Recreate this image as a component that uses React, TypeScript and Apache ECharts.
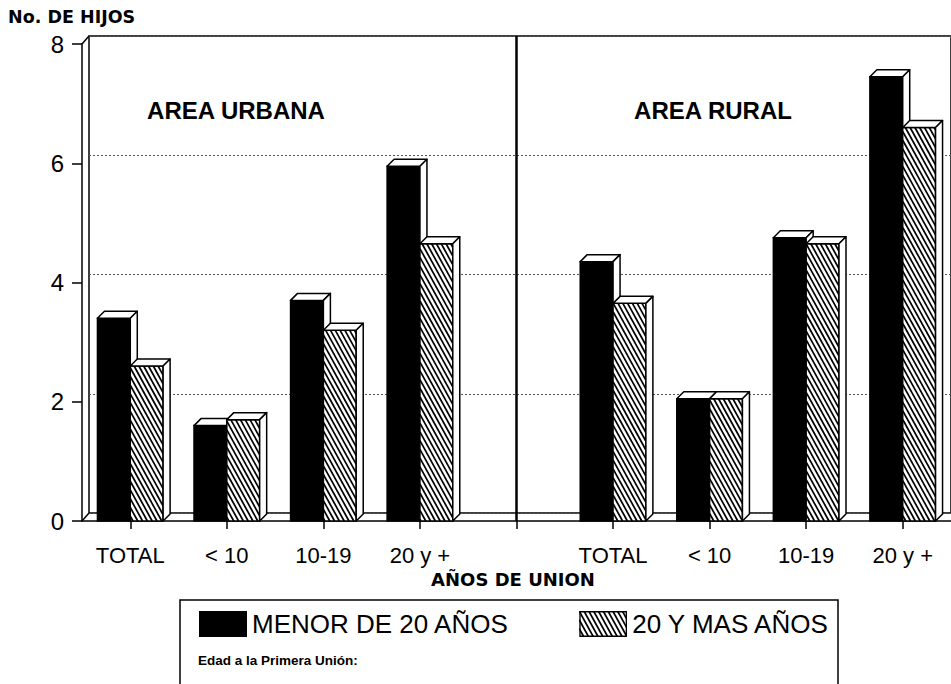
import React, { useEffect, useRef } from 'react';
import * as echarts from 'echarts';

// ---- data ----
const CATEGORIES = ['TOTAL', '< 10', '10-19', '20 y +', '', 'TOTAL', '< 10', '10-19', '20 y +'];
const URBAN_IDX = [0, 1, 2, 3];
const RURAL_IDX = [5, 6, 7, 8];
const URBAN_MENOR = [3.4, 1.6, 3.7, 5.95];
const URBAN_MAS = [2.6, 1.7, 3.2, 4.65];
const RURAL_MENOR = [4.35, 2.05, 4.75, 7.45];
const RURAL_MAS = [3.65, 2.05, 4.65, 6.6];
const SERIES_NAMES = ['MENOR DE 20 AÑOS', '20 Y MAS AÑOS'];
const Y_MIN = 0;
const Y_MAX = 8;
const Y_INTERVAL = 2;

// ---- styling constants ----
const FONT = "'Liberation Sans', Arial, Helvetica, sans-serif";
const WIDE_FONT = "'DejaVu Sans', Verdana, sans-serif";
const DX = 7;
const DY = -7;
const WX = 7;
const WY = -8;
const BAR_FRAC = 0.34;
const HATCH_P = 4.8;
const HATCH_S = 0.55;

function hatchSegments(x0: number, ya: number, x1: number, yb: number, p: number, s: number) {
  const out: number[][] = [];
  const kStart = Math.ceil((x0 - s * yb) / p);
  const kEnd = Math.floor((x1 - s * ya) / p);
  for (let k = kStart; k <= kEnd; k++) {
    const c = k * p;
    const lo = Math.max(ya, (x0 - c) / s);
    const hi = Math.min(yb, (x1 - c) / s);
    if (hi - lo > 0.3) out.push([c + s * lo, lo, c + s * hi, hi]);
  }
  return out;
}

function pairs(idx: number[], vals: number[]) {
  return idx.map((i, k) => [i, vals[k]]);
}

const menorData = [...pairs(URBAN_IDX, URBAN_MENOR), ...pairs(RURAL_IDX, RURAL_MENOR)];
const masData = [...pairs(URBAN_IDX, URBAN_MAS), ...pairs(RURAL_IDX, RURAL_MAS)];

const makeBarRender = (hatched: boolean) => (params: any, api: any) => {
  const i = api.value(0);
  const v = api.value(1);
  const b = api.coord([i, 0]);
  const t = api.coord([i, v]);
  const bw = api.size([1, 0])[0] * BAR_FRAC;
  const x0 = hatched ? b[0] : b[0] - bw;
  const x1 = x0 + bw;
  const yb = b[1];
  const yt = t[1];
  const children: any[] = [];
  children.push({
    type: 'rect',
    shape: { x: x0, y: yt, width: bw, height: yb - yt },
    style: { fill: hatched ? '#fff' : '#000', stroke: 'none' },
  });
  if (hatched) {
    hatchSegments(x0, yt, x1, yb, HATCH_P, HATCH_S).forEach((s) => {
      children.push({
        type: 'line',
        shape: { x1: s[0], y1: s[1], x2: s[2], y2: s[3] },
        style: { stroke: '#000', lineWidth: 1.7 },
      });
    });
  }
  children.push({
    type: 'rect',
    shape: { x: x0, y: yt, width: bw, height: yb - yt },
    style: { fill: 'none', stroke: '#000', lineWidth: 1.5 },
  });
  children.push({
    type: 'polygon',
    shape: { points: [[x0, yt], [x1, yt], [x1 + DX, yt + DY], [x0 + DX, yt + DY]] },
    style: { fill: '#fff', stroke: '#000', lineWidth: 1.5, lineJoin: 'round' },
  });
  children.push({
    type: 'polygon',
    shape: { points: [[x1, yt], [x1 + DX, yt + DY], [x1 + DX, yb + DY], [x1, yb]] },
    style: { fill: '#fff', stroke: '#000', lineWidth: 1.5, lineJoin: 'round' },
  });
  return { type: 'group', children };
};

const frameRender = (params: any, api: any) => {
  const band = api.size([1, 0])[0];
  const p0 = api.coord([0, Y_MIN]);
  const p8 = api.coord([0, Y_MAX]);
  const left = p0[0] - band / 2;
  const pd = api.coord([4, Y_MIN]);
  const st = { stroke: '#000', lineWidth: 1.5 };
  return {
    type: 'group',
    children: [
      { type: 'line', shape: { x1: left, y1: p0[1], x2: left + WX, y2: p0[1] + WY }, style: st },
      { type: 'line', shape: { x1: left, y1: p8[1], x2: left + WX, y2: p8[1] + WY }, style: st },
      { type: 'line', shape: { x1: pd[0], y1: p8[1] + WY, x2: pd[0], y2: p0[1] }, style: { stroke: '#000', lineWidth: 2.5 } },
    ],
  };
};

function hatchIcon() {
  const w = 48;
  const h = 26;
  const segs = hatchSegments(0, 0, w, h, HATCH_P, HATCH_S)
    .map((s) => `<line x1="${s[0].toFixed(2)}" y1="${s[1].toFixed(2)}" x2="${s[2].toFixed(2)}" y2="${s[3].toFixed(2)}" stroke="black" stroke-width="1.7"/>`)
    .join('');
  const svg = `<svg xmlns="http://www.w3.org/2000/svg" width="${w}" height="${h}" viewBox="0 0 ${w} ${h}"><rect x="0" y="0" width="${w}" height="${h}" fill="white"/>${segs}<rect x="0.75" y="0.75" width="${w - 1.5}" height="${h - 1.5}" fill="none" stroke="black" stroke-width="1.5"/></svg>`;
  return 'image://data:image/svg+xml;charset=utf-8,' + encodeURIComponent(svg);
}

export default function App() {
  const ref = useRef<HTMLDivElement>(null);
  useEffect(() => {
    if (!ref.current) return;
    const chart = echarts.init(ref.current, null, { renderer: 'svg', width: 951, height: 684 });
    const option: any = {
      animation: false,
      backgroundColor: '#fff',
      textStyle: { fontFamily: FONT },
      grid: [
        { left: 82, top: 44, width: 873, height: 477, show: false },
        { left: 82 + WX, top: 44 + WY, width: 873, height: 477, show: true, borderColor: '#000', borderWidth: 1.5, backgroundColor: 'transparent' },
      ],
      xAxis: [
        {
          type: 'category',
          gridIndex: 0,
          data: CATEGORIES,
          boundaryGap: true,
          axisLine: { show: true, lineStyle: { color: '#000', width: 1.5 } },
          axisTick: { show: true, alignWithLabel: true, interval: 0, length: 8, lineStyle: { color: '#000', width: 1.5 } },
          axisLabel: { interval: 0, color: '#000', fontSize: 22, margin: 23, fontFamily: FONT },
          splitLine: { show: false },
        },
        { type: 'category', gridIndex: 1, data: CATEGORIES, show: false },
      ],
      yAxis: [
        {
          type: 'value',
          gridIndex: 0,
          min: Y_MIN,
          max: Y_MAX,
          interval: Y_INTERVAL,
          axisLine: { show: true, lineStyle: { color: '#000', width: 1.5 } },
          axisTick: { show: true, length: 10, lineStyle: { color: '#000', width: 1.5 } },
          axisLabel: { color: '#000', fontSize: 24, margin: 18, fontFamily: FONT },
          splitLine: { show: false },
        },
        {
          type: 'value',
          gridIndex: 1,
          min: Y_MIN,
          max: Y_MAX,
          interval: Y_INTERVAL,
          axisLine: { show: false },
          axisTick: { show: false },
          axisLabel: { show: false },
          splitLine: { show: true, lineStyle: { color: '#555', width: 1, type: [2, 2] } },
        },
      ],
      legend: {
        left: 199,
        top: 611,
        padding: 0,
        itemWidth: 48,
        itemHeight: 26,
        itemGap: 70,
        selectedMode: false,
        textStyle: { fontSize: 26, color: '#000', fontFamily: FONT },
        data: [
          { name: SERIES_NAMES[0], icon: 'rect', itemStyle: { color: '#000' } },
          { name: SERIES_NAMES[1], icon: hatchIcon() },
        ],
      },
      graphic: [
        { type: 'text', left: 8, top: 8, style: { text: 'No. DE HIJOS', font: `bold 17.5px ${WIDE_FONT}`, fill: '#000' } },
        { type: 'text', x: 236, y: 110, style: { text: 'AREA URBANA', font: `bold 24px ${FONT}`, fill: '#000', align: 'center', verticalAlign: 'middle' } },
        { type: 'text', x: 713, y: 110, style: { text: 'AREA RURAL', font: `bold 24px ${FONT}`, fill: '#000', align: 'center', verticalAlign: 'middle' } },
        { type: 'text', x: 513, y: 579, style: { text: 'AÑOS DE UNION', font: `bold 18px ${WIDE_FONT}`, fill: '#000', align: 'center', verticalAlign: 'middle' } },
        { type: 'rect', shape: { x: 180, y: 600, width: 658, height: 140 }, style: { fill: 'none', stroke: '#000', lineWidth: 1.5 } },
        { type: 'text', x: 198, y: 660, style: { text: 'Edad a la Primera Unión:', font: `bold 13.5px ${FONT}`, fill: '#000', verticalAlign: 'middle' } },
      ],
      series: [
        {
          type: 'custom',
          name: 'frame',
          xAxisIndex: 0,
          yAxisIndex: 0,
          data: [[0, 0]],
          silent: true,
          clip: false,
          z: 1,
          renderItem: frameRender,
        },
        {
          type: 'custom',
          name: SERIES_NAMES[0],
          xAxisIndex: 0,
          yAxisIndex: 0,
          itemStyle: { color: '#000' },
          data: menorData,
          clip: false,
          z: 2,
          renderItem: makeBarRender(false),
        },
        {
          type: 'custom',
          name: SERIES_NAMES[1],
          xAxisIndex: 0,
          yAxisIndex: 0,
          itemStyle: { color: '#fff' },
          data: masData,
          clip: false,
          z: 3,
          renderItem: makeBarRender(true),
        },
      ],
    };
    chart.setOption(option);
    return () => chart.dispose();
  }, []);
  return <div ref={ref} style={{ position: 'fixed', left: 0, top: 0, width: 951, height: 684, background: '#fff' }} />;
}
